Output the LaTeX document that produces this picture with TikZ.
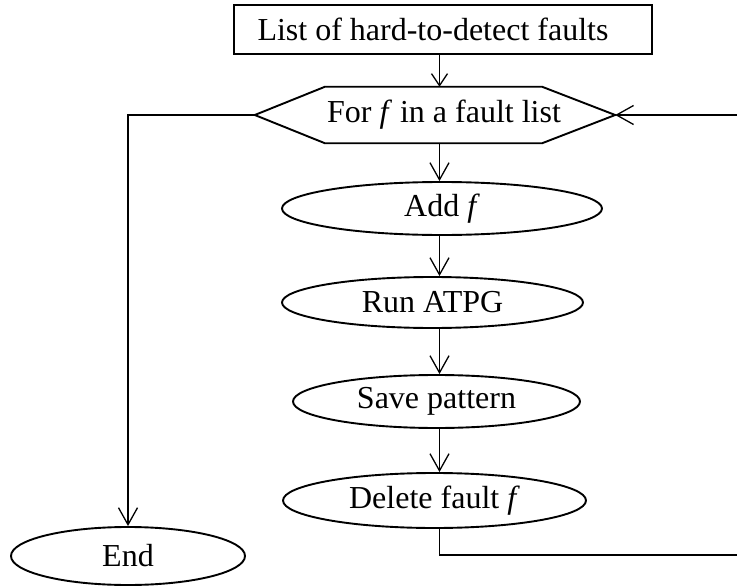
\documentclass[tikz,border=0pt]{standalone}
\usepackage{fontspec}
\setmainfont{Liberation Serif}
\usetikzlibrary{arrows.meta,shapes.geometric}
\begin{document}
\begin{tikzpicture}[x=1pt,y=-1pt,
  every node/.style={font=\fontsize{32}{38}\selectfont, inner sep=0pt},
  shapeline/.style={line width=1.9pt},
  conn/.style={line width=1.3pt, -{Straight Barb[length=17pt,width=19pt]}},
  connshort/.style={line width=1.3pt, -{Straight Barb[length=12pt,width=16pt]}},
  oval/.style={ellipse, draw, shapeline}]
\useasboundingbox (0,0) rectangle (737,586);
\clip (0,0) rectangle (737,586);
\coordinate (col) at (439.5,0);
\coordinate (cR) at (770,555);
% top rectangle
\node[draw, shapeline, rectangle, minimum width=418pt, minimum height=49pt] (list) at (443,29.5) {List of hard-to-detect faults\hspace*{20pt}};
% hexagon loop node
\node[minimum width=360pt, minimum height=56pt] (hex) at (435,115) {\hspace*{18pt}For \textit{f} in a fault list};
\draw[shapeline, line join=miter] (hex.west) -- ([xshift=70pt]hex.north west) -- ([xshift=-73pt]hex.north east) -- (hex.east) -- ([xshift=-73pt]hex.south east) -- ([xshift=70pt]hex.south west) -- cycle;
% ellipses
\node[oval, minimum width=320pt, minimum height=53pt] (add) at (442,208.5) {Add \textit{f}};
\node[oval, minimum width=301pt, minimum height=51pt] (run) at (432.5,302.5) {Run ATPG};
\node[oval, minimum width=287pt, minimum height=53pt] (save) at (436.5,401.5) {Save pattern};
\node[oval, minimum width=303pt, minimum height=55pt] (del) at (434.5,500.5) {Delete fault \textit{f}};
\node[oval, minimum width=234pt, minimum height=58pt] (endn) at (128,556) {End};
% connectors
\draw[connshort] (list.south -| col) -- (hex.north -| col);
\draw[conn] (hex.south -| col) -- (add.north -| col);
\draw[conn] (add.south -| col) -- (run.north -| col);
\draw[conn] (run.south -| col) -- (save.north -| col);
\draw[conn] (save.south -| col) -- (del.north -| col);
\draw[conn] (hex.west) -| (endn.north);
\draw[conn] (del.south -| col) |- (cR) |- (hex.east);
\end{tikzpicture}
\end{document}
